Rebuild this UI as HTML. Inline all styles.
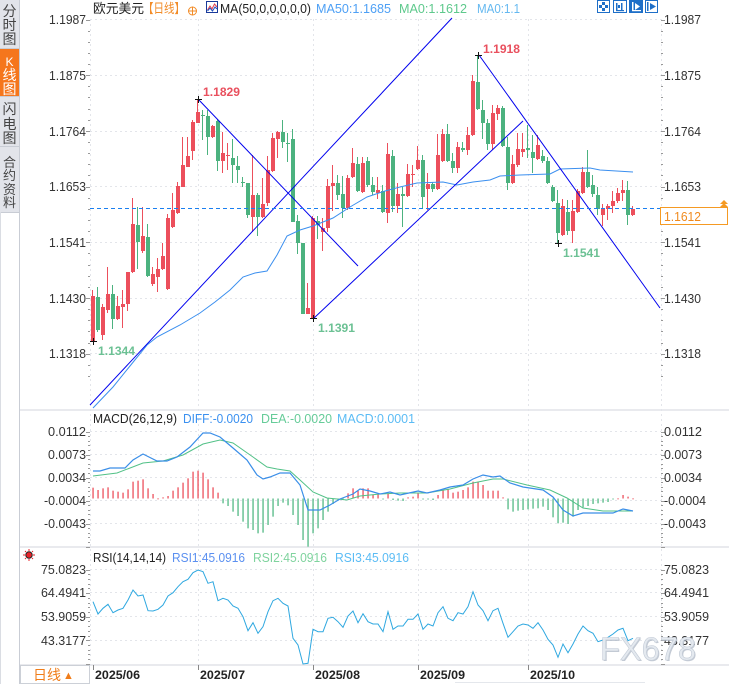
<!DOCTYPE html>
<html><head><meta charset="utf-8">
<style>
html,body{margin:0;padding:0;background:#fff;}
body{width:729px;height:684px;overflow:hidden;position:relative;}
svg{position:absolute;left:0;top:0;}
</style></head><body>
<svg id="s" width="729" height="684" viewBox="0 0 729 684" xmlns="http://www.w3.org/2000/svg" font-family="'Liberation Sans','Noto Sans CJK SC',sans-serif">
<rect width="729" height="684" fill="#fff"/>
<!-- sidebar -->
<rect x="0" y="0" width="19" height="212" fill="#e2e4ea"/>
<rect x="0" y="49" width="19" height="47" fill="#f5761c"/>
<line x1="0" y1="48.5" x2="19" y2="48.5" stroke="#c8ccd4"/>
<line x1="0" y1="96.5" x2="19" y2="96.5" stroke="#c8ccd4"/>
<line x1="0" y1="146.5" x2="19" y2="146.5" stroke="#c8ccd4"/>
<line x1="0" y1="212.5" x2="19" y2="212.5" stroke="#c8ccd4"/>
<line x1="0.5" y1="212" x2="0.5" y2="684" stroke="#dadde3"/>
<line x1="19.5" y1="0" x2="19.5" y2="684" stroke="#c9cdd5"/>
<g font-size="14" fill="#444" text-anchor="middle">
<text x="9.5" y="16">分</text><text x="9.5" y="30">时</text><text x="9.5" y="44">图</text>
<text x="9.5" y="66" fill="#fff" font-size="12">K</text><text x="9.5" y="80" fill="#fff">线</text><text x="9.5" y="94" fill="#fff">图</text>
<text x="9.5" y="114">闪</text><text x="9.5" y="129">电</text><text x="9.5" y="143">图</text>
<text x="9.5" y="167" font-size="13">合</text><text x="9.5" y="180" font-size="13">约</text><text x="9.5" y="194" font-size="13">资</text><text x="9.5" y="207" font-size="13">料</text>
</g>
<!-- header -->
<g font-size="13">
<text x="93" y="13" fill="#222" textLength="51" lengthAdjust="spacingAndGlyphs">欧元美元</text>
<text x="143" y="13" fill="#f28c28" textLength="42" lengthAdjust="spacingAndGlyphs">【日线】</text>
<text x="220" y="13" fill="#222" textLength="91" lengthAdjust="spacingAndGlyphs">MA(50,0,0,0,0,0)</text>
<text x="316" y="13" fill="#4ea0f5" textLength="75" lengthAdjust="spacingAndGlyphs">MA50:1.1685</text>
<text x="399" y="13" fill="#5ec98c" textLength="68" lengthAdjust="spacingAndGlyphs">MA0:1.1612</text>
<text x="477" y="13" fill="#64b8f0" textLength="43" lengthAdjust="spacingAndGlyphs">MA0:1.1</text>
</g>
<circle cx="192.5" cy="11" r="4" fill="none" stroke="#f28c28" stroke-width="1"/>
<line x1="188" y1="11" x2="197" y2="11" stroke="#f28c28"/><line x1="192.5" y1="6.5" x2="192.5" y2="15.5" stroke="#f28c28"/>
<rect x="206.5" y="1.5" width="11" height="11" fill="#fff" stroke="#1a3a9a"/>
<polyline points="207.5,10 210,6 212,9 214.5,4 217,7" fill="none" stroke="#e04050" stroke-width="1"/>
<polyline points="207.5,11 210,8 212.5,11 215,7 217,9" fill="none" stroke="#2050c0" stroke-width="1"/>
<!-- right icons -->
<g stroke="#1e6fc8" fill="#fff">
<rect x="597.5" y="0.5" width="12" height="12"/>
<rect x="613.5" y="0.5" width="13" height="12"/>
<rect x="629.5" y="0.5" width="13" height="12" fill="#1e6fc8"/>
<rect x="645.5" y="0.5" width="12" height="12"/>
</g>
<g fill="#1e6fc8">
<rect x="602" y="2" width="3" height="3"/><rect x="602" y="8" width="3" height="3"/><rect x="599" y="5" width="3" height="3"/><rect x="605" y="5" width="3" height="3"/>
<rect x="616" y="3" width="1.5" height="8"/><rect x="621" y="3" width="1.5" height="8"/><rect x="616" y="10" width="8" height="1.2"/><rect x="618" y="5" width="2" height="3"/>
<polygon points="650,3 656,6.5 650,10"/><rect x="647" y="2" width="1.5" height="9"/>
</g>
<g fill="#fff"><rect x="632" y="2" width="1.5" height="9"/><polygon points="635,3 640,6.5 635,10"/><rect x="632" y="10" width="9" height="1.2"/></g>

<!-- grids -->
<g stroke="#e3e5ea" stroke-dasharray="2,3" stroke-width="1">
<line x1="90" y1="19.5" x2="661" y2="19.5"/><line x1="90" y1="75.5" x2="661" y2="75.5"/>
<line x1="90" y1="131.5" x2="661" y2="131.5"/><line x1="90" y1="186.5" x2="661" y2="186.5"/>
<line x1="90" y1="242.5" x2="661" y2="242.5"/><line x1="90" y1="298.5" x2="661" y2="298.5"/>
<line x1="90" y1="353.5" x2="661" y2="353.5"/>
<line x1="90" y1="431.5" x2="661" y2="431.5"/><line x1="90" y1="454.5" x2="661" y2="454.5"/>
<line x1="90" y1="477.5" x2="661" y2="477.5"/><line x1="90" y1="500.5" x2="661" y2="500.5"/>
<line x1="90" y1="523.5" x2="661" y2="523.5"/>
<line x1="90" y1="569.5" x2="661" y2="569.5"/><line x1="90" y1="592.5" x2="661" y2="592.5"/>
<line x1="90" y1="616.5" x2="661" y2="616.5"/><line x1="90" y1="640.5" x2="661" y2="640.5"/>
<line x1="90.5" y1="19" x2="90.5" y2="665"/><line x1="661.5" y1="19" x2="661.5" y2="665"/>
<line x1="198.5" y1="19" x2="198.5" y2="665"/><line x1="313.5" y1="19" x2="313.5" y2="665"/>
<line x1="418.5" y1="19" x2="418.5" y2="665"/><line x1="528.5" y1="19" x2="528.5" y2="665"/>
</g>
<!-- panel separators -->
<g stroke="#e2e4e9" stroke-width="1.5">
<line x1="20" y1="410" x2="729" y2="410"/><line x1="20" y1="547" x2="729" y2="547"/><line x1="20" y1="665" x2="729" y2="665"/>
</g>
<g id="ticks" stroke="#999" stroke-width="1"></g>

<!-- axis labels -->
<g font-size="13" fill="#333" text-anchor="end">
<text x="86" y="24" textLength="37" lengthAdjust="spacingAndGlyphs">1.1987</text>
<text x="86" y="80" textLength="37" lengthAdjust="spacingAndGlyphs">1.1875</text>
<text x="86" y="136" textLength="37" lengthAdjust="spacingAndGlyphs">1.1764</text>
<text x="86" y="191" textLength="37" lengthAdjust="spacingAndGlyphs">1.1653</text>
<text x="86" y="247" textLength="37" lengthAdjust="spacingAndGlyphs">1.1541</text>
<text x="86" y="303" textLength="37" lengthAdjust="spacingAndGlyphs">1.1430</text>
<text x="86" y="358" textLength="37" lengthAdjust="spacingAndGlyphs">1.1318</text>
<text x="86" y="436" textLength="38" lengthAdjust="spacingAndGlyphs">0.0112</text>
<text x="86" y="459" textLength="38" lengthAdjust="spacingAndGlyphs">0.0073</text>
<text x="86" y="482" textLength="38" lengthAdjust="spacingAndGlyphs">0.0034</text>
<text x="86" y="505" textLength="42" lengthAdjust="spacingAndGlyphs">-0.0004</text>
<text x="86" y="528" textLength="42" lengthAdjust="spacingAndGlyphs">-0.0043</text>
<text x="86" y="574" textLength="45" lengthAdjust="spacingAndGlyphs">75.0823</text>
<text x="86" y="597" textLength="45" lengthAdjust="spacingAndGlyphs">64.4941</text>
<text x="86" y="621" textLength="45" lengthAdjust="spacingAndGlyphs">53.9059</text>
<text x="86" y="645" textLength="45" lengthAdjust="spacingAndGlyphs">43.3177</text>
</g>
<g font-size="13" fill="#333">
<text x="664" y="24" textLength="37" lengthAdjust="spacingAndGlyphs">1.1987</text>
<text x="664" y="80" textLength="37" lengthAdjust="spacingAndGlyphs">1.1875</text>
<text x="664" y="136" textLength="37" lengthAdjust="spacingAndGlyphs">1.1764</text>
<text x="664" y="191" textLength="37" lengthAdjust="spacingAndGlyphs">1.1653</text>
<text x="664" y="247" textLength="37" lengthAdjust="spacingAndGlyphs">1.1541</text>
<text x="664" y="303" textLength="37" lengthAdjust="spacingAndGlyphs">1.1430</text>
<text x="664" y="358" textLength="37" lengthAdjust="spacingAndGlyphs">1.1318</text>
<text x="664" y="436" textLength="38" lengthAdjust="spacingAndGlyphs">0.0112</text>
<text x="664" y="459" textLength="38" lengthAdjust="spacingAndGlyphs">0.0073</text>
<text x="664" y="482" textLength="38" lengthAdjust="spacingAndGlyphs">0.0034</text>
<text x="664" y="505" textLength="42" lengthAdjust="spacingAndGlyphs">-0.0004</text>
<text x="664" y="528" textLength="42" lengthAdjust="spacingAndGlyphs">-0.0043</text>
<text x="664" y="574" textLength="45" lengthAdjust="spacingAndGlyphs">75.0823</text>
<text x="664" y="597" textLength="45" lengthAdjust="spacingAndGlyphs">64.4941</text>
<text x="664" y="621" textLength="45" lengthAdjust="spacingAndGlyphs">53.9059</text>
<text x="664" y="645" textLength="45" lengthAdjust="spacingAndGlyphs">43.3177</text>
</g>

<!-- panel titles -->
<g font-size="13">
<text x="93" y="423" fill="#222" textLength="84" lengthAdjust="spacingAndGlyphs">MACD(26,12,9)</text>
<text x="183" y="423" fill="#3a90f0" textLength="70" lengthAdjust="spacingAndGlyphs">DIFF:-0.0020</text>
<text x="261" y="423" fill="#66cc99" textLength="71" lengthAdjust="spacingAndGlyphs">DEA:-0.0020</text>
<text x="337" y="423" fill="#5bbcf5" textLength="78" lengthAdjust="spacingAndGlyphs">MACD:0.0001</text>
<text x="93" y="562" fill="#222" textLength="73" lengthAdjust="spacingAndGlyphs">RSI(14,14,14)</text>
<text x="172" y="562" fill="#5b90f0" textLength="73" lengthAdjust="spacingAndGlyphs">RSI1:45.0916</text>
<text x="253" y="562" fill="#7fd39e" textLength="74" lengthAdjust="spacingAndGlyphs">RSI2:45.0916</text>
<text x="335" y="562" fill="#5bbcf5" textLength="74" lengthAdjust="spacingAndGlyphs">RSI3:45.0916</text>
</g>
<!-- RSI icon -->
<g stroke="#e8232a" stroke-width="1">
<line x1="29" y1="549" x2="29" y2="551"/><line x1="29" y1="559" x2="29" y2="561"/>
<line x1="23" y1="555" x2="25" y2="555"/><line x1="33" y1="555" x2="35" y2="555"/>
<line x1="25" y1="551" x2="26" y2="552"/><line x1="32" y1="558" x2="33" y2="559"/>
<line x1="33" y1="551" x2="32" y2="552"/><line x1="25" y1="559" x2="26" y2="558"/>
</g>
<circle cx="29" cy="555" r="3.2" fill="#e8232a" stroke="#222" stroke-width="1"/>

<g id="dyn"></g>

<!-- MA50 -->
<polyline fill="none" stroke="#3b8fef" stroke-width="1" points="93,408 113,387 130,366 147,345 157,337 180,325 200,313 215,302 230,290 243,277 255,273 267,271 277,255 287,236 300,230 313,226 333,218 350,207 367,197 385,191 400,187 417,183 443,182 457,185 473,182 490,180 500,176 520,175 550,174 560,169 590,168 600,170 633,172"/>
<!-- trend lines -->
<g stroke="#0000ee" stroke-width="1">
<line x1="90" y1="405" x2="452" y2="18"/>
<line x1="198" y1="99" x2="358" y2="266"/>
<line x1="313" y1="319" x2="523" y2="121"/>
<line x1="479" y1="55" x2="660" y2="308"/>
</g>
<!-- current price dashed -->
<line x1="90" y1="208.5" x2="661" y2="208.5" stroke="#1a7ff0" stroke-width="1" stroke-dasharray="4,3"/>
<rect x="660.5" y="207.5" width="67" height="17" fill="#fff" stroke="#f59a23"/>
<text x="664" y="221" font-size="13" fill="#f08a1e" textLength="37" lengthAdjust="spacingAndGlyphs">1.1612</text>
<polygon points="720,204 724,200 728,204" fill="#f59a23"/><polygon points="720,207 724,203 728,207" fill="#f59a23"/>
<!-- crosses -->
<g stroke="#111" stroke-width="1">
<line x1="90" y1="341.5" x2="97" y2="341.5"/><line x1="93.5" y1="338" x2="93.5" y2="345"/>
<line x1="195" y1="99.5" x2="202" y2="99.5"/><line x1="198.5" y1="96" x2="198.5" y2="103"/>
<line x1="310" y1="318.5" x2="317" y2="318.5"/><line x1="313.5" y1="315" x2="313.5" y2="322"/>
<line x1="475" y1="55.5" x2="482" y2="55.5"/><line x1="478.5" y1="52" x2="478.5" y2="59"/>
<line x1="555" y1="243.5" x2="562" y2="243.5"/><line x1="558.5" y1="240" x2="558.5" y2="247"/>
</g>
<g font-size="12" font-weight="bold">
<text x="203" y="96" fill="#e9505e" textLength="37" lengthAdjust="spacingAndGlyphs">1.1829</text>
<text x="483" y="53" fill="#e9505e" textLength="37" lengthAdjust="spacingAndGlyphs">1.1918</text>
<text x="318" y="332" fill="#6cc194" textLength="37" lengthAdjust="spacingAndGlyphs">1.1391</text>
<text x="563" y="257" fill="#6cc194" textLength="37" lengthAdjust="spacingAndGlyphs">1.1541</text>
<text x="98" y="355" fill="#6cc194" textLength="37" lengthAdjust="spacingAndGlyphs">1.1344</text>
</g>
<!-- MACD lines -->
<polyline fill="none" stroke="#52c187" stroke-width="1" points="93,476 117,473 143,463 163,461 183,455 203,444 220,440 233,443 253,457 267,467 277,469 290,471 300,480 313,492 327,498 347,500 360,496 380,494 400,493 427,493 450,489 473,483 493,479 503,479 527,485 550,490 567,498 583,508 603,511 627,511 633,511"/>
<polyline fill="none" stroke="#3a8ee8" stroke-width="1.2" points="93,471 100,471 110,468 125,468 133,460 143,454 157,461 167,461 177,457 190,447 203,433 210,433 220,437 233,448 247,460 257,475 263,479 270,477 280,473 290,473 300,485 308,510 320,510 330,505 340,499 353,494 360,489 370,491 380,494 390,492 400,495 418,491 427,493 440,490 450,487 463,485 473,479 483,475 493,477 500,476 510,483 523,487 543,490 553,497 563,510 573,516 583,513 597,513 613,513 623,509 633,511"/>
<polyline id="rsi" fill="none" stroke="#2fa8e0" stroke-width="1"/>

<!-- watermark -->
<text x="601" y="661" font-size="32" fill="#aab4c2" opacity="0.7" textLength="96" lengthAdjust="spacingAndGlyphs">FX678</text>
<text x="600" y="660" font-size="32" fill="#e4e9ef" stroke="#c4ccd7" stroke-width="0.6" textLength="96" lengthAdjust="spacingAndGlyphs">FX678</text>

<!-- bottom axis -->
<g stroke="#888"><line x1="93.5" y1="665" x2="93.5" y2="670"/><line x1="198.5" y1="665" x2="198.5" y2="670"/><line x1="313.5" y1="665" x2="313.5" y2="670"/><line x1="418.5" y1="665" x2="418.5" y2="670"/><line x1="528.5" y1="665" x2="528.5" y2="670"/></g>
<g font-size="12" font-weight="bold" fill="#222">
<text x="95" y="679" textLength="45" lengthAdjust="spacingAndGlyphs">2025/06</text>
<text x="200" y="679" textLength="45" lengthAdjust="spacingAndGlyphs">2025/07</text>
<text x="315" y="679" textLength="45" lengthAdjust="spacingAndGlyphs">2025/08</text>
<text x="420" y="679" textLength="45" lengthAdjust="spacingAndGlyphs">2025/09</text>
<text x="530" y="679" textLength="45" lengthAdjust="spacingAndGlyphs">2025/10</text>
</g>
<line x1="455" y1="682.5" x2="645" y2="682.5" stroke="#e4e7ec"/>
<rect x="20.5" y="665.5" width="69" height="18" fill="#fff" stroke="#ccd0d7"/>
<text x="33" y="680" font-size="14" fill="#f07d1a">日线</text>
<text x="63" y="679" font-size="11" fill="#f07d1a">▲</text>
</svg>
<script>
(function(){
var NS='http://www.w3.org/2000/svg';
var g=document.getElementById('dyn');
function el(t,a,p){var e=document.createElementNS(NS,t);for(var k in a)e.setAttribute(k,a[k]);(p||g).appendChild(e);return e;}
var C=[[296,341,290,342,'r'],[297,330,287,332,'g'],[307,335,304,340,'r'],[294,310,267,313,'r'],[294,319,285,329,'g'],
[306,319,296,320,'r'],[304,307,290,328,'r'],[272,304,272,311,'r'],[224,272,198,273,'r'],[225,242,207,269,'g'],
[236,251,207,253,'r'],[237,276,224,277,'g'],[274,284,267,286,'r'],[269,277,258,292,'r'],[256,269,243,270,'r'],
[218,289,214,290,'r'],[210,227,193,228,'r'],[186,213,182,214,'r'],[165,187,137,187,'r'],[156,167,137,167,'r'],
[122,151,120,160,'r'],[112,123,99,123,'r'],[115,116,110,140,'g'],[116,137,110,155,'g'],[126,137,125,138,'r'],
[121,161,119,171,'g'],[153,161,132,173,'r'],[155,156,143,170,'r'],[158,165,139,183,'g'],[166,170,156,183,'g'],
[182,183,177,187,'g'],[183,215,183,218,'g'],[195,217,155,232,'r'],[195,217,193,236,'g'],[204,217,178,218,'r'],
[170,203,156,206,'r'],[138,171,133,172,'r'],[132,139,131,158,'r'],[132,142,120,148,'g'],[143,144,133,162,'g'],
[139,222,129,222,'g'],[221,243,215,254,'g'],[243,314,243,314,'g'],[308,314,283,314,'r'],[218,318,216,319,'r'],
[221,225,216,239,'g'],[228,232,218,251,'r'],[186,228,179,232,'r'],[183,186,165,211,'r'],[183,195,175,200,'g'],
[194,208,176,218,'g'],[178,208,175,210,'r'],[163,177,148,178,'r'],[164,191,157,192,'g'],[163,192,157,193,'r'],
[161,185,157,187,'g'],[185,192,177,195,'g'],[190,193,177,199,'r'],[191,212,185,213,'g'],[154,213,143,223,'r'],
[156,206,150,212,'g'],[194,206,183,213,'r'],[194,196,187,227,'g'],[174,196,164,197,'r'],[174,175,165,187,'r'],
[160,169,146,170,'r'],[160,197,155,208,'g'],[184,189,173,210,'r'],[184,189,182,192,'g'],[155,189,134,190,'r'],
[134,161,129,162,'r'],[134,161,124,162,'g'],[161,168,153,173,'g'],[147,168,142,173,'r'],[148,150,142,152,'g'],
[135,150,127,155,'r'],[81,135,75,136,'r'],[82,109,55,110,'g'],[110,123,100,139,'g'],[123,144,119,150,'g'],
[113,144,105,150,'r'],[108,114,105,120,'r'],[108,146,106,147,'g'],[147,183,137,190,'g'],[164,183,155,184,'r'],
[149,165,133,167,'r'],[149,152,133,157,'r'],[148,150,125,158,'g'],[152,158,135,173,'g'],[145,159,135,160,'r'],
[156,161,150,163,'g'],[161,183,157,184,'g'],[187,201,185,202,'g'],[203,233,190,243,'g'],[206,235,199,236,'r'],
[212,231,200,235,'g'],[211,231,200,243,'r'],[191,212,189,213,'r'],[172,193,167,194,'r'],[172,187,150,188,'g'],
[185,194,175,197,'g'],[195,209,187,215,'g'],[209,215,204,226,'r'],[206,209,204,220,'r'],[201,206,191,213,'r'],
[193,201,188,203,'r'],[190,193,180,201,'r'],[190,215,181,225,'g'],[209,215,206,216,'r']];
var RED='#ec4f5c',GRN='#4cb27f';
for(var i=0;i<C.length;i++){var c=C[i],x=93+5*i,col=c[4]=='r'?RED:GRN;
 el('rect',{x:x-1,y:c[2],width:1,height:Math.max(1,c[3]-c[2]),fill:col});
 el('rect',{x:x-2,y:c[0],width:4,height:Math.max(1,c[1]-c[0]),fill:col});}
// MACD histogram
var H=[263,270,265,262,272,275,278,268,245,242,238,265,282,295,292,288,272,262,248,235,215,212,218,238,262,278,
310,318,335,348,365,385,390,400,398,375,350,318,308,316,345,375,420,440,400,385,360,335,312,302,300,
280,265,272,265,265,
285,282,298,280,300,302,303,292,290,278,297,298,300,285,270,268,278,275,270,262,245,245,255,272,272,272,292,
328,335,332,330,328,326,325,320,330,352,370,368,372,350,330,322,318,312,310,308,306,296,295,285,290,295];
var y0=498.5;
for(var i=0;i<H.length;i++){var x=93+5*i,y=400+H[i]/3,col=y<y0?RED:'#52b884';
 var t=Math.min(y,y0),h=Math.max(1,Math.abs(y-y0));
 el('rect',{x:x-0.6,y:t,width:1.3,height:h,fill:col});}
// RSI
var R=[185,222,205,193,218,210,205,180,150,168,165,212,213,208,195,168,158,140,125,118,98,90,95,130,125,182,175,180,198,205,230,272,248,280,260,215,182,175,190,198,295,315,372,370,268,275,275,235,232,245,262,228,213,248,221,245,
252,252,275,215,268,258,258,238,238,222,268,252,258,218,200,235,242,218,222,200,155,195,212,242,212,205,250,292,275,258,252,255,265,248,270,298,315,352,312,338,312,282,258,272,280,305,300,292,282,270,265,302,295];
var pts=[];for(var i=0;i<R.length;i++){pts.push((93+5*i)+','+(540+R[i]/3).toFixed(1));}
document.getElementById('rsi').setAttribute('points',pts.join(' '));
// minor ticks
var tk=document.getElementById('ticks');
function ticks(y0,step,n){for(var j=0;j<n;j++){var y=Math.round(y0+step*j)+0.5;var major=(j%5==0);
 el('line',{x1:major?86:88,y1:y,x2:90,y2:y},tk);el('line',{x1:661,y1:y,x2:major?665:663,y2:y},tk);}}
ticks(19.5,55.7/5,33);
ticks(431.5,23/5,26);
ticks(569.5,23.6/5,21);
})();
</script>
</body></html>
